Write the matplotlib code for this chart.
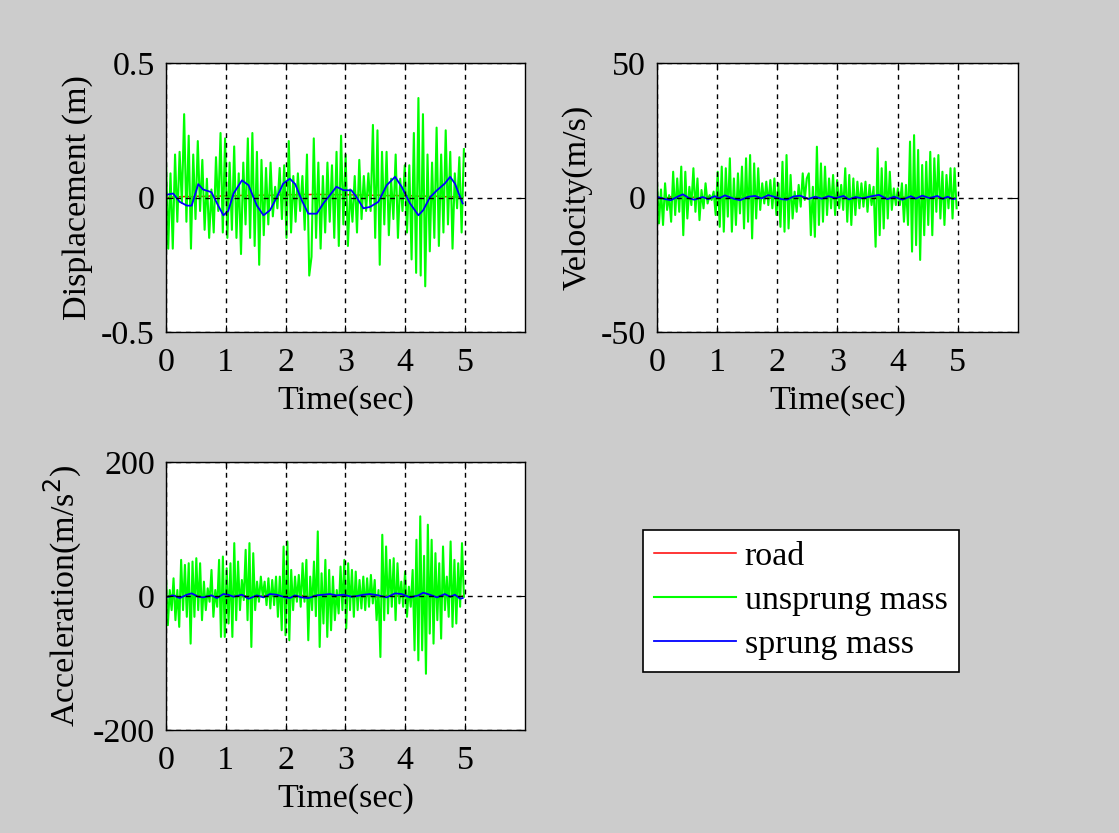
import numpy as np
import matplotlib
matplotlib.use("Agg")
import matplotlib.pyplot as plt

plt.rcParams['font.family'] = ['Liberation Serif', 'DejaVu Serif']
plt.rcParams['axes.unicode_minus'] = False

# unsprung mass (green)
disp_unsprung = [0.14, -0.19, 0.09, -0.19, 0.16, -0.09, 0.17, -0.02, 0.31, -0.09,
                 0.23, -0.19, 0.16, -0.08, 0.21, -0.05, 0.14, -0.12, 0.07, -0.15,
                 0.03, -0.13, 0.15, -0.05, 0.24, -0.13, 0.22, -0.15, 0.13, -0.12,
                 0.19, -0.15, 0.09, -0.21, 0.13, -0.10, 0.22, -0.15, 0.24, -0.18,
                 0.17, -0.25, 0.14, -0.14, 0.11, -0.10, 0.13, -0.07, 0.04, -0.04,
                 0.11, -0.08, 0.12, -0.15, 0.21, -0.13, 0.08, -0.09, 0.09, -0.05,
                 0.08, -0.12, 0.16, -0.29,
                 -0.22, 0.22, -0.15, 0.13, -0.19, 0.08, -0.13, 0.13, -0.09, 0.12,
                 -0.15, 0.17, -0.18, 0.23, -0.10, 0.16, -0.18, 0.03, -0.09, 0.08,
                 -0.13, 0.14, -0.08, 0.08, -0.05, 0.09, -0.05, 0.27, -0.15, 0.25,
                 -0.25, 0.17, -0.10, 0.17, -0.14, 0.07, -0.08, 0.16, -0.15, 0.07,
                 -0.05, 0.12, -0.13, 0.12, -0.23, 0.24, -0.28, 0.37, -0.29, 0.31,
                 -0.33, 0.16, -0.20, 0.13, -0.15, 0.26, -0.18, 0.16, -0.13, 0.25,
                 -0.10, 0.17, -0.19, 0.09, -0.04, 0.15, -0.13, 0.18]
vel_unsprung = [5.9, -9.6, 3.0, -10.2, 5.3, -4.6, 0.9, -9.0, 9.6, -6.5,
                7.1, -5.3, 11.5, -14.0, 9.6, -7.8, 4.0, -2.8, 10.9, -5.3,
                7.1, -8.4, 2.8, -4.0, 5.3, -2.2, 0.9, -0.9, 2.2, -6.5,
                9.6, -10.9, 11.5, -12.7, 10.9, -7.1, 14.6, -12.7, 7.1, -10.2,
                9.0, -5.9, 11.5, -11.5, 14.6, -9.0, 15.8, -15.2, 12.7, -7.8,
                10.9, -4.6, 5.3, -2.2, 5.9, -2.8, 6.5, -4.0, 7.1, -6.5,
                5.3, -10.9, 13.3, -12.7, 15.8, -11.5, 8.4, -7.8, 2.2, -5.3,
                4.7, -3.4, 9.0, -0.9, 7.1,
                9.0, -14.0, 4.0, -14.6, 18.9, -10.2, 12.7, -9.0, 11.5, -6.5,
                7.1, -4.0, 8.4, -6.5, 6.5, -4.0, 4.7, -4.6, 10.9, -9.0,
                8.4, -10.2, 7.1, -6.5, 5.9, -4.0, 5.3, -3.4, 5.9, -5.3,
                4.7, -2.8, 4.0, -18.3, 18.3, -14.0, 10.9, -11.5, 13.3, -7.8,
                9.6, -4.6, 3.4, -2.8, 3.4, -2.8, 5.3, -9.0, 4.7, -10.2,
                20.8, -20.1, 23.2, -17.7, 17.7, -23.2, 12.1, -14.0, 13.3, -10.2,
                17.0, -14.0, 14.6, -5.3, 15.8, -7.8, 9.6, -10.2, 8.4, -4.0,
                10.9, -7.8, 10.9, -4.0]
acc_unsprung = [29, -43.5, 9, -21, 26.5, -36, 9, -46, 54, -21,
                46.5, -31, 49, -71, 51.5, -31, 56.5, -21, 49, -36,
                21.5, -21, 11.5, -8.5, 39, -31, 9, -16, 54, -61,
                59, -61, 41.5, -41, 49, -61, 79, -36, 51.5, -21,
                24, -6, 69, -36, 79, -76, 64, -21, 21.5, -8.5,
                29, -1, 21.5, -13.5, 26.5, -18.5, 24, -13.5, 29, -31,
                29, -51, 74, -58.5, 81.5, -66, 39, -21, 29, -8.5,
                31.5, -16, 49, -8.5, 54,
                -66, 29, -21, 51.5, -30, 96.5, -76, 34, -41, 54,
                -61, 39, -51, 29, -36, 9, -26, 44, -21, 54,
                -48.5, 49, -21, 39, -31, 36.5, -21, 24, -18.5, 29,
                -21, 26.5, -16, 31.5, -11, 24, -36, 9, -91, 91.5,
                -36, 74, -26, 54, -16, 56.5, -36, 49, -11, 21.5,
                -16, 36.5, -31, 14, -16, 39, -81, 84, -96, 119,
                -81, 60, -116, 106.5, -56, 84, -71, 64, -36, 49,
                -63.5, 74, -21, 29, -31, 81.5, -46, 54, -41, 49,
                -16, 79, -1]

# sprung mass (blue) and road (red)
t_sprung = [0.0, 0.12, 0.23, 0.35, 0.43, 0.54, 0.62, 0.76, 0.85, 0.96,
            1.04, 1.13, 1.27, 1.38, 1.52, 1.63, 1.74, 1.85, 1.96, 2.07,
            2.16, 2.27, 2.38, 2.52, 2.63, 2.74, 2.85, 2.97, 3.1, 3.19,
            3.3, 3.41, 3.55, 3.69, 3.83, 3.94, 4.08, 4.22, 4.3, 4.41,
            4.53, 4.66, 4.75, 4.83, 4.92, 4.96]
disp_sprung = [0.01, 0.015, -0.016, -0.03, -0.03, 0.05, 0.03, 0.02, -0.02, -0.066,
               -0.05, 0.015, 0.064, 0.046, -0.03, -0.066, -0.047, 0.0, 0.052, 0.07,
               0.05, -0.01, -0.06, -0.06, -0.022, 0.009, 0.04, 0.027, 0.027, 0.0,
               -0.04, -0.035, -0.016, 0.046, 0.077, 0.04, -0.022, -0.066, -0.047, 0.0,
               0.027, 0.052, 0.077, 0.052, 0.0, -0.022]
vel_sprung = [0.3, -0.5, -1.0, 0.4, 1.2, -0.3, -0.8, 0.2, -0.6, 0.5,
              -0.2, 0.8, -0.4, -1.0, 0.3, 0.6, -0.3, 0.9, 0.2, -0.6,
              -0.8, 0.4, 0.7, -0.5, 0.3, -0.4, 0.5, -0.2, 0.6, -0.7,
              0.2, -0.3, 0.4, 1.0, -0.6, 0.3, -0.8, 0.5, -0.4, 0.7,
              -0.2, 0.6, -0.5, 0.3, -0.6, -0.4]
acc_sprung = [-2, 1, -3, 2, 4, -1, -2, 1, -3, 3,
              2, -1, 2, -4, 1, -2, 3, 2, -1, -3,
              1, -2, -3, 1, 2, 3, 1, 2, -1, 0,
              2, 3, 1, -2, 4, 3, -2, 1, 5, 2,
              -2, 3, -1, 2, -4, -3]
disp_road = [0.0, 0.002, 0.003, 0.004, 0.003, 0.005, 0.004, 0.006, 0.005, 0.006,
             0.007, 0.006, 0.008, 0.007, 0.008, 0.009, 0.008, 0.010, 0.009, 0.011,
             0.010, 0.012, 0.011, 0.012, 0.011, 0.012, 0.010, 0.011, 0.010, 0.009,
             0.010, 0.008, 0.009, 0.007, 0.008, 0.006, 0.007, 0.005, 0.006, 0.004,
             0.005, 0.003, 0.004, 0.002, 0.003, 0.002]
vel_road = [0.2, -0.4, 0.3, -0.2, 0.5, -0.3, 0.2, -0.5, 0.4, -0.2,
            0.3, -0.4, 0.2, -0.3, 0.5, -0.2, 0.3, -0.4, 0.2, -0.3,
            0.4, -0.2, 0.3, -0.5, 0.2, -0.3, 0.4, -0.2, 0.3, -0.4,
            0.2, -0.3, 0.5, -0.2, 0.3, -0.4, 0.2, -0.3, 0.4, -0.2,
            0.3, -0.4, 0.2, -0.3, 0.2, -0.2]
acc_road = [-1, 2, -2, 1, -1, 2, -1, 1, -2, 1,
            -1, 2, -1, 1, -2, 1, -1, 2, -1, 1,
            -2, 1, -1, 2, -1, 1, -2, 1, -1, 2,
            -1, 1, -2, 1, -1, 2, -1, 1, -2, 1,
            -1, 2, -1, 1, -1, 0]

ylabels = ['Displacement (m)', 'Velocity(m/s)', 'Acceleration(m/s$^2$)']
ylims = [0.5, 50, 200]
yticklabels = [['-0.5', '0', '0.5'], ['-50', '0', '50'], ['-200', '0', '200']]
series = [(disp_road, disp_unsprung, disp_sprung),
          (vel_road, vel_unsprung, vel_sprung),
          (acc_road, acc_unsprung, acc_sprung)]
names = ['road', 'unsprung mass', 'sprung mass']

fig = plt.figure(figsize=(11.19, 8.33), dpi=100, facecolor='#cccccc')
positions = [[0.1483, 0.6014, 0.3208, 0.3229],
             [0.5871, 0.6014, 0.3226, 0.3229],
             [0.1483, 0.1236, 0.3208, 0.3217]]

fs = 24.5
handles = None
for pos, (road, uns, spr), yl, lim, ytl in zip(positions, series, ylabels, ylims, yticklabels):
    ax = fig.add_axes(pos)
    t_uns = np.linspace(0, 4.98, len(uns))
    h1, = ax.plot(t_sprung, road, color='#ff0000', lw=1.1)
    h2, = ax.plot(t_uns, uns, color='#00ff00', lw=1.5)
    h3, = ax.plot(t_sprung, spr, color='#0000ff', lw=1.3)
    if handles is None:
        handles = [h1, h2, h3]
    ax.set_xlim(0, 6)
    ax.set_ylim(-lim, lim)
    ax.set_xticks([0, 1, 2, 3, 4, 5])
    ax.set_yticks([-lim, 0, lim])
    ax.set_yticklabels(ytl)
    ax.grid(True, color='black', linestyle=(0, (3.5, 3.5)), linewidth=1.0)
    ax.set_axisbelow(False)
    ax.tick_params(direction='in', length=5, labelsize=fs, top=True, right=True)
    ax.tick_params(axis='x', pad=11)
    ax.tick_params(axis='y', pad=8)
    ax.set_xlabel('Time(sec)', fontsize=fs, labelpad=5)
    ax.set_ylabel(yl, fontsize=fs, labelpad=6)
    for s in ax.spines.values():
        s.set_linewidth(1.0)

leg = fig.legend(handles, names, loc='center', bbox_to_anchor=(0.7158, 0.279),
                 fontsize=fs, frameon=True, fancybox=False, edgecolor='black',
                 facecolor='white', framealpha=1.0,
                 handlelength=2.4, handletextpad=0.25, labelspacing=0.38,
                 borderpad=0.35, borderaxespad=0)
leg.get_frame().set_linewidth(1.2)

fig.savefig('out.png', dpi=100, facecolor=fig.get_facecolor())
